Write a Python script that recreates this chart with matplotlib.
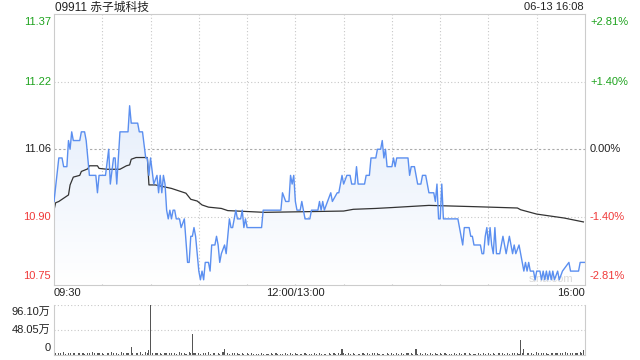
import matplotlib
matplotlib.use("Agg")
import matplotlib.pyplot as plt
import matplotlib.transforms as mtransforms
from matplotlib.colors import LinearSegmentedColormap
import numpy as np

plt.rcParams["font.family"] = ["Liberation Sans", "Noto Sans CJK SC", "DejaVu Sans"]

title = "09911 赤子城科技"
stamp = "06-13 16:08"
prev_close = 11.06
pct_ticks = [2.81, 1.40, 0.00, -1.40, -2.81]
price_labels = ["11.37", "11.22", "11.06", "10.90", "10.75"]
pct_labels = ["+2.81%", "+1.40%", "0.00%", "-1.40%", "-2.81%"]
time_labels = ["09:30", "12:00/13:00", "16:00"]
time_label_min = [0, 150, 330]
vol_labels = ["96.10万", "48.05万", "0"]
vol_max = 96.10

# minutes since 09:30 (lunch break removed), price in HKD
price_min = [0, 3, 5, 6, 8, 9, 10, 11, 12, 16, 17, 19, 20, 22, 26, 27, 28, 32,
             34, 35, 37, 38, 39, 41, 46, 47, 48, 52, 53, 55, 57, 58, 59, 60, 62,
             64, 65, 66, 67, 68, 69, 70, 71, 72, 73, 74, 75, 76, 78, 79, 81, 83,
             84, 85, 86, 87, 88, 89, 90, 91, 92, 93, 94, 96, 97, 98, 100, 101,
             102, 103, 104, 106, 107, 108, 109, 110, 111, 113, 114, 116, 117,
             118, 119, 120, 129, 130, 141, 142, 144, 146, 147, 148, 149, 150,
             151, 153, 154, 155, 156, 159, 160, 164, 165, 166, 167, 168, 170,
             172, 173, 176, 177, 179, 180, 182, 184, 185, 187, 188, 189, 193,
             194, 196, 197, 200, 201, 203, 204, 205, 206, 207, 210, 211, 212,
             213, 220, 221, 222, 224, 226, 228, 229, 231, 233, 236, 237, 238,
             239, 240, 241, 242, 251, 252, 254, 255, 258, 259, 260, 261, 265,
             266, 267, 268, 269, 270, 271, 272, 273, 274, 275, 277, 278, 279,
             280, 281, 282, 283, 284, 285, 286, 287, 289, 290, 291, 292, 293,
             294, 295, 296, 298, 299, 300, 302, 303, 304, 305, 306, 307, 308,
             309, 310, 311, 313, 314, 316, 320, 321, 326, 327, 330]
price_val = [10.94, 11.04, 11.04, 11.02, 11.02, 11.08, 11.06, 11.10, 11.08,
             11.08, 11.10, 11.10, 11.08, 11.00, 11.00, 10.96, 11.00, 11.00,
             11.06, 10.98, 11.04, 11.04, 10.98, 11.10, 11.10, 11.16, 11.12,
             11.12, 11.10, 11.10, 11.04, 11.04, 11.00, 11.04, 10.98, 11.00,
             10.96, 11.00, 10.96, 11.00, 10.98, 10.92, 10.90, 10.92, 10.90,
             10.92, 10.92, 10.90, 10.90, 10.88, 10.90, 10.80, 10.80, 10.86,
             10.86, 10.88, 10.86, 10.82, 10.78, 10.76, 10.78, 10.76, 10.80,
             10.80, 10.78, 10.84, 10.84, 10.86, 10.84, 10.80, 10.82, 10.84,
             10.82, 10.86, 10.90, 10.88, 10.88, 10.92, 10.90, 10.90, 10.92,
             10.88, 10.90, 10.88, 10.88, 10.92, 10.92, 10.96, 10.94, 10.94,
             11.00, 10.98, 11.00, 10.94, 10.92, 10.92, 10.94, 10.92, 10.90,
             10.90, 10.92, 10.92, 10.94, 10.92, 10.94, 10.92, 10.94, 10.96,
             10.94, 10.96, 10.96, 11.00, 10.98, 11.00, 11.00, 10.98, 10.98,
             11.02, 10.98, 10.98, 11.00, 11.00, 11.04, 11.04, 11.06, 11.06,
             11.08, 11.04, 11.06, 11.02, 11.02, 11.04, 11.02, 11.04, 11.04,
             11.00, 11.02, 11.02, 10.98, 10.98, 11.00, 11.00, 10.96, 10.96,
             10.94, 10.98, 10.90, 10.90, 10.98, 10.90, 10.90, 10.88, 10.84,
             10.88, 10.88, 10.86, 10.86, 10.84, 10.84, 10.82, 10.82, 10.86,
             10.88, 10.84, 10.88, 10.84, 10.82, 10.88, 10.82, 10.82, 10.84,
             10.86, 10.84, 10.82, 10.84, 10.86, 10.84, 10.82, 10.84, 10.82,
             10.84, 10.82, 10.80, 10.78, 10.80, 10.78, 10.80, 10.78, 10.78,
             10.76, 10.78, 10.78, 10.76, 10.78, 10.76, 10.78, 10.76, 10.78,
             10.76, 10.78, 10.76, 10.78, 10.76, 10.78, 10.80, 10.78, 10.78,
             10.80, 10.80]

avg_min = [0, 1, 3, 7, 9, 10, 12, 16, 17, 21, 22, 27, 28, 33, 41, 45, 47, 48,
           51, 58, 59, 63, 73, 82, 85, 89, 92, 96, 104, 108, 131, 180, 186,
           200, 210, 233, 262, 288, 290, 300, 317, 329]
avg_val = [10.92, 10.937, 10.94, 10.95, 10.955, 10.978, 10.996, 11.0, 11.009,
           11.015, 11.022, 11.022, 11.016, 11.014, 11.014, 11.022, 11.024,
           11.037, 11.041, 11.041, 10.978, 10.978, 10.97, 10.959, 10.945,
           10.941, 10.932, 10.927, 10.924, 10.919, 10.915, 10.918, 10.922,
           10.924, 10.926, 10.931, 10.928, 10.925, 10.921, 10.911, 10.902,
           10.893]

# volume (10k shares): two interleaved runs of small prints plus the larger ones
base_vol_min = list(range(0, 330, 3))
base_vol = [5.5, 3.0, 4.2, 2.4, 3.6, 2.0, 3.3, 2.8, 4.5, 2.2,
            3.1, 2.6, 3.9, 2.9, 5.2, 3.4, 2.5, 3.0, 4.0, 4.8,
            6.5, 3.6, 2.8, 3.2, 2.3, 3.7, 4.4, 3.0, 5.6, 3.3,
            2.7, 3.5, 4.6, 3.0, 2.5, 5.0, 3.2, 2.6, 3.8, 2.4,
            2.0, 2.6, 1.8, 2.3, 1.7, 2.1, 2.8, 1.9, 2.4, 2.0,
            2.2, 1.6, 2.5, 1.9, 2.7, 2.1, 1.8, 2.6, 2.0, 2.3,
            3.5, 2.2, 2.9, 1.8, 2.4, 2.0, 3.1, 2.3, 1.9, 2.6,
            2.1, 2.8, 2.0, 3.4, 2.2, 1.9, 2.5, 2.0, 2.7, 2.3,
            2.0, 2.6, 1.8, 2.4, 2.1, 3.0, 2.2, 1.9, 2.5, 2.0,
            2.6, 2.1, 2.9, 2.3, 2.0, 3.2, 2.4, 2.2, 3.5, 2.6,
            4.0, 3.1, 2.7, 3.6, 2.9, 3.3, 4.2, 3.0, 3.8, 4.6]
base_vol_min_b = list(range(1, 330, 3))
base_vol_b = [2.1, 3.4, 1.8, 2.9, 2.2, 3.1, 1.6, 2.5, 2.0, 3.3,
              1.9, 2.7, 2.3, 1.7, 2.8, 2.0, 3.0, 2.4, 1.8, 3.6,
              2.9, 2.2, 1.7, 2.6, 2.0, 1.8, 2.4, 1.9, 3.2, 2.1,
              1.6, 2.3, 1.9, 2.7, 1.8, 2.2, 1.5, 2.4, 1.9, 1.6,
              1.4, 1.9, 1.5, 1.7, 1.3, 1.8, 1.6, 1.4, 1.9, 1.5,
              1.7, 1.4, 1.8, 1.5, 1.9, 1.6, 1.3, 1.8, 1.5, 1.7,
              1.9, 1.5, 1.8, 1.4, 1.7, 1.6, 2.0, 1.5, 1.4, 1.8,
              1.6, 1.9, 1.5, 2.1, 1.7, 1.4, 1.8, 1.5, 1.9, 1.6,
              1.5, 1.8, 1.4, 1.7, 1.6, 2.0, 1.5, 1.4, 1.8, 1.6,
              1.9, 1.5, 2.0, 1.7, 1.5, 2.2, 1.8, 1.6, 2.4, 1.9,
              2.6, 2.2, 1.9, 2.5, 2.1, 2.4, 2.9, 2.2, 2.7, 3.1]
spike_min = [48, 59, 60, 86, 106, 179, 225, 290, 292, 329]
spike_vol = [15.0, 8.0, 96.1, 39.7, 10.5, 10.0, 10.0, 28.0, 11.0, 9.0]

green = "#1ea31e"
red = "#f03a3a"
grid_c = "#c8c8c8"
frame_c = "#cccccc"

y_hi = prev_close * (1 + pct_ticks[0] / 100)
y_lo = prev_close * (1 + pct_ticks[-1] / 100)

fig = plt.figure(figsize=(6.4, 3.6), dpi=100)
ax = fig.add_axes([54 / 640, 1 - 284.5 / 360, 531 / 640, 270.5 / 360])
axv = fig.add_axes([54 / 640, 1 - 354.5 / 360, 531 / 640, 49.5 / 360])

# price panel
ax.set_xlim(0, 330)
ax.set_ylim(y_lo, y_hi)
for m in range(30, 330, 30):
    ax.axvline(m, color=grid_c, lw=0.8, ls=(0, (1, 2)), zorder=0)
for p in pct_ticks[1:-1]:
    lvl = prev_close * (1 + p / 100)
    if p == 0:
        ax.axhline(lvl, color="#aaaaaa", lw=0.8, ls=(0, (2, 2)), zorder=0)
    else:
        ax.axhline(lvl, color=grid_c, lw=0.8, ls=(0, (1, 2)), zorder=0)

poly = ax.fill_between(price_min, price_val, y_lo, color="none", lw=0)
cmap = LinearSegmentedColormap.from_list("fade", ["#ffffff", "#d8e5f9"])
grad = np.linspace(0, 1, 256).reshape(-1, 1)
im = ax.imshow(grad, cmap=cmap, extent=[0, 330, y_lo, y_hi], aspect="auto",
               origin="lower", zorder=1)
im.set_clip_path(poly.get_paths()[0], transform=ax.transData)

ax.text(323, y_lo, "sina.com", color="#d9d9d9", fontsize=8, ha="right",
        va="bottom", zorder=1.5)
ax.plot(price_min, price_val, color="#5b8ff0", lw=1.0, zorder=3)
ax.plot(avg_min, avg_val, color="#333333", lw=0.9, zorder=2.5)

ax.set_xticks([])
ax.set_yticks([])
for s in ax.spines.values():
    s.set_color(frame_c)
    s.set_linewidth(0.8)

ytr = ax.get_yaxis_transform()
colors = [green, green, "#222222", red, red]
for i, (p, pl, cl, c) in enumerate(zip(pct_ticks, price_labels, pct_labels, colors)):
    lvl = prev_close * (1 + p / 100)
    dy = -6 if i == 0 else (6 if i == len(pct_ticks) - 1 else 0)
    tr = mtransforms.offset_copy(ytr, fig=fig, x=0, y=dy, units="points")
    ax.text(-0.006, lvl, pl, transform=tr, ha="right", va="center",
            color=c, fontsize=8)
    ax.text(1.0094, lvl, cl, transform=tr, ha="left", va="center",
            color=c, fontsize=8)

xtr = ax.get_xaxis_transform()
for m, lab, ha in zip(time_label_min, time_labels, ["left", "center", "right"]):
    ax.text(m, -0.032, lab, transform=xtr, ha=ha, va="center",
            color="#222222", fontsize=8)

fig.text(55 / 640, 1 - 7.5 / 360, title, ha="left", va="center",
         color="#222222", fontsize=8.5)
fig.text(584 / 640, 1 - 7.5 / 360, stamp, ha="right", va="center",
         color="#222222", fontsize=8)

# volume panel
axv.set_xlim(0, 330)
axv.set_ylim(0, vol_max)
axv.axhline(vol_max, color=grid_c, lw=0.8, ls=(0, (1, 2)), zorder=0)
axv.axhline(vol_max / 2, color=grid_c, lw=0.8, ls=(0, (1, 2)), zorder=0)
axv.bar(base_vol_min, base_vol, width=0.7, color="#555555", lw=0)
axv.bar(base_vol_min_b, base_vol_b, width=0.7, color="#555555", lw=0)
axv.bar(spike_min, spike_vol, width=0.7, color="#555555", lw=0)
axv.set_xticks([])
axv.set_yticks([])
axv.spines["top"].set_visible(False)
for k in ["left", "right", "bottom"]:
    axv.spines[k].set_color(frame_c)
    axv.spines[k].set_linewidth(0.8)

vtr = axv.get_yaxis_transform()
for v, lab, dy in zip([vol_max, vol_max / 2, 0], vol_labels, [-5, 0, 5]):
    tr = mtransforms.offset_copy(vtr, fig=fig, x=0, y=dy, units="points")
    axv.text(-0.006, v, lab, transform=tr, ha="right", va="center",
             color="#222222", fontsize=8)

fig.savefig("out.png", dpi=100)
plt.close(fig)
